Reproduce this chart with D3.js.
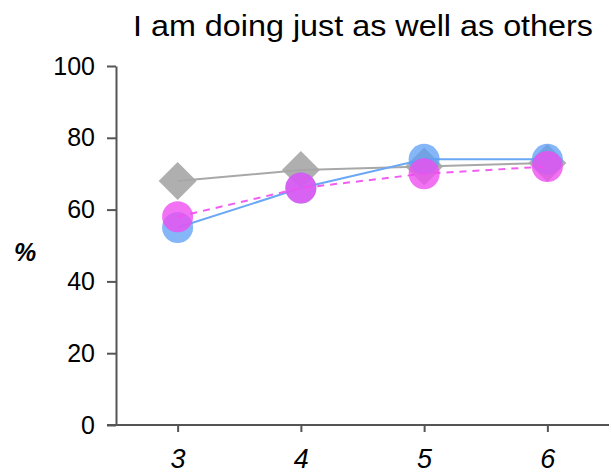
<!DOCTYPE html>
<html><head><meta charset="utf-8">
<script src="https://cdn.jsdelivr.net/npm/d3@7"></script>
<style>body{margin:0;background:#fff;} svg{display:block;} text{font-family:"Liberation Sans",Arial,sans-serif;}</style>
</head><body>
<svg id="c" width="612" height="473"></svg>
<script>
const categories = [3, 4, 5, 6];
const grayValues = [68, 71, 72, 73];
const blueValues = [55, 66, 74, 74];
const magentaValues = [58, 66, 70, 72];
const yTicks = [0, 20, 40, 60, 80, 100];
const title = "I am doing just as well as others";

const svg = d3.select("#c");
const x = d3.scaleLinear().domain([2.5, 6.5]).range([116, 609]);
const y = d3.scaleLinear().domain([0, 100]).range([425, 66]);

// axes
const yAxis = svg.append("g").attr("transform", "translate(116,0)")
  .call(d3.axisLeft(y).tickValues(yTicks).tickFormat(d3.format("d")).tickSize(9).tickPadding(12).tickSizeOuter(0));
const xAxis = svg.append("g").attr("transform", "translate(0,425)")
  .call(d3.axisBottom(x).tickValues(categories).tickFormat(d3.format("d")).tickSize(7).tickPadding(17).tickSizeOuter(0));
[yAxis, xAxis].forEach(a => {
  a.select(".domain").attr("stroke", "#555").attr("stroke-width", 2);
  a.selectAll(".tick line").attr("stroke", "#555").attr("stroke-width", 2);
  a.selectAll(".tick text").attr("fill", "#000").style("font-size", "25px");
});
xAxis.selectAll(".tick text").style("font-style", "italic").style("font-size", "27px");
// extend x axis line to the left
xAxis.select(".domain").attr("d", `M107,0H${x(6.5)}`);

// title
svg.append("text").attr("x", 363).attr("y", 36).attr("text-anchor", "middle")
  .attr("textLength", 460).attr("lengthAdjust", "spacingAndGlyphs")
  .style("font-size", "29px").attr("fill", "#000").text(title);

// y label
svg.append("text").attr("x", 25).attr("y", 261).attr("text-anchor", "middle")
  .style("font-size", "25px").style("font-weight", "bold").style("font-style", "italic")
  .attr("fill", "#000").text("%");

const line = d3.line().x((d, i) => x(categories[i])).y(d => y(d));

// gray series
svg.append("path").datum(grayValues).attr("d", line).attr("fill", "none")
  .attr("stroke", "#a8a8a8").attr("stroke-width", 2);
svg.selectAll(".gd").data(grayValues).enter().append("path")
  .attr("transform", (d, i) => `translate(${x(categories[i])},${y(d)})`)
  .attr("d", "M0,-19L19,0L0,19L-19,0Z")
  .attr("fill", "#a6a6a6").attr("fill-opacity", 0.9);

// blue series
svg.append("path").datum(blueValues).attr("d", line).attr("fill", "none")
  .attr("stroke", "#6aa8f5").attr("stroke-width", 2);
svg.selectAll(".bc").data(blueValues).enter().append("circle")
  .attr("cx", (d, i) => x(categories[i])).attr("cy", d => y(d)).attr("r", 15.5)
  .attr("fill", "#5b9ef5").attr("fill-opacity", 0.75);

// magenta series
svg.append("path").datum(magentaValues).attr("d", line).attr("fill", "none")
  .attr("stroke", "#f25cf2").attr("stroke-width", 2).attr("stroke-dasharray", "7,6");
svg.selectAll(".mc").data(magentaValues).enter().append("circle")
  .attr("cx", (d, i) => x(categories[i])).attr("cy", d => y(d)).attr("r", 15.5)
  .attr("fill", "#ee4ff0").attr("fill-opacity", 0.8);
</script>
</body></html>
